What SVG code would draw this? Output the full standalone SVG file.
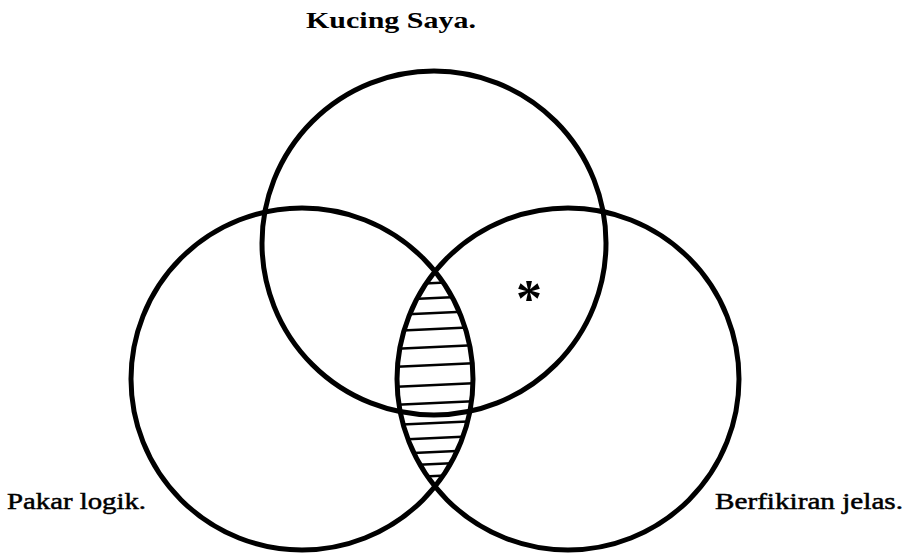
<svg xmlns="http://www.w3.org/2000/svg" width="914" height="557" viewBox="0 0 914 557">
<style>
.c{fill:none;stroke:#000;stroke-width:5}
.h{stroke:#000;stroke-width:2.6;fill:none}
.t{fill:#000}
</style>
<defs>
<clipPath id="lens">
<path d="M435 271.5 A171 171 0 0 1 435 486.5 A171 171 0 0 1 435 271.5 Z"/>
</clipPath>
</defs>
<rect width="914" height="557" fill="#fff"/>
<g id="hatch" clip-path="url(#lens)">
<path class="h" d="M390 285 L480 281 M390 300 L480 296 M390 315 L480 311 M390 331 L480 327 M390 349 L480 345 M390 367 L480 363 M390 387 L480 383 M390 405 L480 401 M390 425 L480 421 M390 440 L480 436 M390 454 L480 450 M390 466 L480 462 M390 478 L480 474"/>
</g>
<g id="connectors"></g>
<g id="kucing-saya">
<circle class="c" cx="434" cy="243" r="172"/>
<text class="t" font-family="Liberation Serif, DejaVu Serif, serif" x="306" y="28" font-size="23" font-weight="bold" textLength="170" lengthAdjust="spacingAndGlyphs">Kucing Saya.</text>
</g>
<g id="pakar-logik">
<circle class="c" cx="302" cy="379" r="171"/>
<text class="t" font-family="Liberation Serif, DejaVu Serif, serif" x="7" y="509" font-size="24" stroke="#000" stroke-width="0.5" textLength="139" lengthAdjust="spacingAndGlyphs">Pakar logik.</text>
</g>
<g id="berfikiran-jelas">
<circle class="c" cx="568" cy="379" r="171"/>
<text class="t" font-family="Liberation Serif, DejaVu Serif, serif" x="715" y="509" font-size="24" stroke="#000" stroke-width="0.5" textLength="188" lengthAdjust="spacingAndGlyphs">Berfikiran jelas.</text>
</g>
<g id="asterisk">
<text class="t" font-family="Liberation Serif, DejaVu Serif, serif" x="529" y="316" font-size="52" font-weight="bold" text-anchor="middle">*</text>
</g>
</svg>
